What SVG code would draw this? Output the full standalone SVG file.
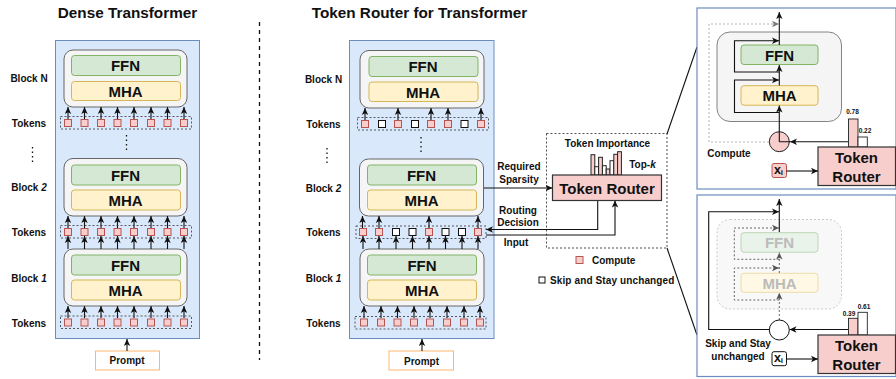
<svg xmlns="http://www.w3.org/2000/svg" xmlns:xlink="http://www.w3.org/1999/xlink" width="896" height="379" viewBox="0 0 896 379">
<style>
text{font-family:"Liberation Sans",Arial,sans-serif;font-weight:700;fill:#111;text-anchor:middle;dominant-baseline:central}
.t10{font-size:10px}.t6{font-size:6.5px}.t15{font-size:15px}.title{font-size:15.3px}.xi{font-size:12.5px}
.panel{fill:#dae8fc;stroke:#6c8ebf;stroke-width:1}
.block{fill:#f5f5f5;stroke:#666;stroke-width:1}
.ffn{fill:#d5e8d4;stroke:#82b366;stroke-width:1}
.mha{fill:#fff2cc;stroke:#d6b656;stroke-width:1}
.row{fill:none;stroke:#333;stroke-width:.8;stroke-dasharray:2 2}
.c{fill:#f8cecc;stroke:#b85450;stroke-width:1}
.s{fill:#fff;stroke:#111;stroke-width:1}
.prompt{fill:#fff;stroke:#ffb570;stroke-width:1}
.router{fill:#f8cecc;stroke:#333;stroke-width:1.2}
.frame{fill:#fff;stroke:#6c8ebf;stroke-width:1.2}
.dots{fill:none;stroke:#111;stroke-width:1.3;stroke-dasharray:1.5 3}
.l{fill:none;stroke:#111;stroke-width:1.1;marker-end:url(#a)}
.p{fill:none;stroke:#111;stroke-width:1.1}
.g{fill:none;stroke:#aaa;stroke-width:.9;stroke-dasharray:2 2;marker-end:url(#ag)}
.d{fill:none;stroke:#555;stroke-width:.9;stroke-dasharray:2 2;marker-end:url(#ad)}
.faint{fill:#bbb}
</style>
<defs>
<marker id="a" markerUnits="userSpaceOnUse" markerWidth="8" markerHeight="8" refX="7" refY="4" orient="auto"><path d="M0 .8L7 4L0 7.2L1.8 4Z" fill="#111"/></marker>
<marker id="ag" markerUnits="userSpaceOnUse" markerWidth="8" markerHeight="8" refX="7" refY="4" orient="auto"><path d="M0 .8L7 4L0 7.2L1.8 4Z" fill="#777"/></marker>
<marker id="ad" markerUnits="userSpaceOnUse" markerWidth="8" markerHeight="8" refX="7" refY="4" orient="auto"><path d="M0 .8L7 4L0 7.2L1.8 4Z" fill="#555"/></marker>
<path id="u12" class="l" d="M0 12V0"/>
<path id="u13" class="l" d="M0 13V0"/>
</defs>

<text class="title" x="127.500" y="12">Dense Transformer</text>
<text class="title" x="419.500" y="12">Token Router for Transformer</text>
<path d="M259.500 22V360" fill="none" stroke="#111" stroke-width="1.3" stroke-dasharray="4 4"/>

<g id="dense-panel">
<rect class="panel" x="55.500" y="40.500" width="144" height="298"/>
<path class="dots" d="M126.500 135V153"/>
</g>
<g id="dense-block-n"><rect class="block" x="64" y="50" width="123" height="57" rx="9"/><rect class="ffn" x="71.500" y="55.500" width="109" height="20" rx="3"/><rect class="mha" x="71.500" y="81.500" width="109" height="19" rx="3"/><text class="t15" x="125.500" y="65">FFN</text><text class="t15" x="125.500" y="91">MHA</text></g>
<g id="dense-block-2"><rect class="block" x="64" y="158.500" width="123" height="57.500" rx="9"/><rect class="ffn" x="71.500" y="165" width="109" height="20" rx="3"/><rect class="mha" x="71.500" y="190" width="109" height="20" rx="3"/><text class="t15" x="125.500" y="175">FFN</text><text class="t15" x="125.500" y="200">MHA</text></g>
<g id="dense-block-1"><rect class="block" x="64" y="249" width="123" height="57" rx="9"/><rect class="ffn" x="71.500" y="255" width="109" height="20" rx="3"/><rect class="mha" x="71.500" y="280" width="109" height="20" rx="3"/><text class="t15" x="125.500" y="265">FFN</text><text class="t15" x="125.500" y="290">MHA</text></g>
<g id="dense-prompt"><rect class="prompt" x="95.500" y="351" width="64" height="19"/><text class="t10" x="127" y="360.500">Prompt</text></g>

<g id="dense-labels">
<text class="t10" x="29" y="78.500">Block N</text><text class="t10" x="29" y="123.500">Tokens</text>
<path class="dots" d="M32.500 147V165"/>
<text class="t10" x="29" y="187">Block <tspan font-style="italic">2</tspan></text><text class="t10" x="29" y="232.500">Tokens</text>
<text class="t10" x="29" y="278">Block <tspan font-style="italic">1</tspan></text><text class="t10" x="29" y="323.500">Tokens</text>
</g>

<g id="dense-connectors">
<use href="#u12" x="68" y="107"/><use href="#u12" x="84.500" y="107"/><use href="#u12" x="101" y="107"/><use href="#u12" x="117.500" y="107"/><use href="#u12" x="134" y="107"/><use href="#u12" x="151" y="107"/><use href="#u12" x="167.500" y="107"/><use href="#u12" x="184" y="107"/>
<use href="#u12" x="68" y="216"/><use href="#u12" x="84.500" y="216"/><use href="#u12" x="101" y="216"/><use href="#u12" x="117.500" y="216"/><use href="#u12" x="134" y="216"/><use href="#u12" x="151" y="216"/><use href="#u12" x="167.500" y="216"/><use href="#u12" x="184" y="216"/>
<use href="#u13" x="68" y="236"/><use href="#u13" x="84.500" y="236"/><use href="#u13" x="101" y="236"/><use href="#u13" x="117.500" y="236"/><use href="#u13" x="134" y="236"/><use href="#u13" x="151" y="236"/><use href="#u13" x="167.500" y="236"/><use href="#u13" x="184" y="236"/>
<use href="#u12" x="68" y="306"/><use href="#u12" x="84.500" y="306"/><use href="#u12" x="101" y="306"/><use href="#u12" x="117.500" y="306"/><use href="#u12" x="134" y="306"/><use href="#u12" x="151" y="306"/><use href="#u12" x="167.500" y="306"/><use href="#u12" x="184" y="306"/>
<use href="#u12" x="127" y="339"/>
</g>

<g id="dense-tokens-n"><rect class="row" x="60.500" y="116.500" width="131" height="12.500"/>
<rect class="c" x="64.500" y="119.500" width="7" height="7"/><rect class="c" x="81" y="119.500" width="7" height="7"/><rect class="c" x="97.500" y="119.500" width="7" height="7"/><rect class="c" x="114" y="119.500" width="7" height="7"/><rect class="c" x="130.500" y="119.500" width="7" height="7"/><rect class="c" x="147.500" y="119.500" width="7" height="7"/><rect class="c" x="164" y="119.500" width="7" height="7"/><rect class="c" x="180.500" y="119.500" width="7" height="7"/></g>
<g id="dense-tokens-2"><rect class="row" x="60.500" y="225.500" width="131" height="12.500"/>
<rect class="c" x="64.500" y="228.500" width="7" height="7"/><rect class="c" x="81" y="228.500" width="7" height="7"/><rect class="c" x="97.500" y="228.500" width="7" height="7"/><rect class="c" x="114" y="228.500" width="7" height="7"/><rect class="c" x="130.500" y="228.500" width="7" height="7"/><rect class="c" x="147.500" y="228.500" width="7" height="7"/><rect class="c" x="164" y="228.500" width="7" height="7"/><rect class="c" x="180.500" y="228.500" width="7" height="7"/></g>
<g id="dense-tokens-1"><rect class="row" x="60.500" y="316" width="131" height="12.500"/>
<rect class="c" x="64.500" y="319" width="7" height="7"/><rect class="c" x="81" y="319" width="7" height="7"/><rect class="c" x="97.500" y="319" width="7" height="7"/><rect class="c" x="114" y="319" width="7" height="7"/><rect class="c" x="130.500" y="319" width="7" height="7"/><rect class="c" x="147.500" y="319" width="7" height="7"/><rect class="c" x="164" y="319" width="7" height="7"/><rect class="c" x="180.500" y="319" width="7" height="7"/></g>

<g id="router-panel">
<rect class="panel" x="349.500" y="40.500" width="144.500" height="298"/>
<path class="dots" d="M421 137V154"/>
</g>
<g id="router-block-n"><rect class="block" x="360" y="50.500" width="124" height="57.500" rx="9"/><rect class="ffn" x="369" y="56.500" width="109" height="20" rx="3"/><rect class="mha" x="369" y="82" width="109" height="19.500" rx="3"/><text class="t15" x="423" y="66.500">FFN</text><text class="t15" x="423" y="92">MHA</text></g>
<g id="router-block-2"><rect class="block" x="359.500" y="159" width="124" height="57" rx="9"/><rect class="ffn" x="367.500" y="165" width="109" height="20" rx="3"/><rect class="mha" x="367.500" y="190" width="109" height="20" rx="3"/><text class="t15" x="421.500" y="175">FFN</text><text class="t15" x="421.500" y="200">MHA</text></g>
<g id="router-block-1"><rect class="block" x="360" y="249" width="124" height="57" rx="9"/><rect class="ffn" x="367.500" y="255" width="109" height="20" rx="3"/><rect class="mha" x="367.500" y="280" width="109" height="20" rx="3"/><text class="t15" x="422" y="265">FFN</text><text class="t15" x="422" y="290">MHA</text></g>
<g id="router-prompt"><rect class="prompt" x="389" y="351" width="64.500" height="19"/><text class="t10" x="421.500" y="361">Prompt</text></g>

<g id="router-labels">
<text class="t10" x="323.500" y="79">Block N</text><text class="t10" x="323.500" y="124">Tokens</text>
<path class="dots" d="M327 148V166"/>
<text class="t10" x="323.500" y="188">Block <tspan font-style="italic">2</tspan></text><text class="t10" x="323.500" y="232.500">Tokens</text>
<text class="t10" x="323.500" y="278">Block <tspan font-style="italic">1</tspan></text><text class="t10" x="323.500" y="323.500">Tokens</text>
</g>

<g id="router-connectors">
<use href="#u12" x="365" y="108"/><use href="#u12" x="398" y="108"/><use href="#u12" x="431" y="108"/><use href="#u12" x="448" y="108"/><use href="#u12" x="481" y="108"/>
<use href="#u12" x="362.500" y="216"/><use href="#u12" x="379" y="216"/><use href="#u12" x="429" y="216"/><use href="#u12" x="478" y="216"/>
<use href="#u13" x="363" y="236"/><use href="#u13" x="379" y="236"/><use href="#u13" x="396" y="236"/><use href="#u13" x="412.500" y="236"/><use href="#u13" x="429" y="236"/><use href="#u13" x="445.500" y="236"/><use href="#u13" x="462" y="236"/><use href="#u13" x="478" y="236"/>
<use href="#u12" x="364" y="306"/><use href="#u12" x="381" y="306"/><use href="#u12" x="397.500" y="306"/><use href="#u12" x="414" y="306"/><use href="#u12" x="430" y="306"/><use href="#u12" x="447" y="306"/><use href="#u12" x="464" y="306"/><use href="#u12" x="480" y="306"/>
<use href="#u12" x="422" y="339"/>
<path class="l" d="M484 188H552.500"/>
<path class="l" d="M597.700 200V229.500H486"/>
<path class="l" d="M486 235H615V200.500"/>
<path class="p" d="M667 134L697 47"/>
<path class="p" d="M667 248L697 335"/>
</g>

<g id="router-tokens-n"><rect class="row" x="357.500" y="117.500" width="131" height="12.500"/>
<rect class="c" x="361.500" y="120.500" width="7" height="7"/><rect class="s" x="378.500" y="120.500" width="7" height="7"/><rect class="c" x="394.500" y="120.500" width="7" height="7"/><rect class="s" x="411.500" y="120.500" width="7" height="7"/><rect class="c" x="427.500" y="120.500" width="7" height="7"/><rect class="c" x="444.500" y="120.500" width="7" height="7"/><rect class="s" x="461" y="120.500" width="7" height="7"/><rect class="c" x="477.500" y="120.500" width="7" height="7"/></g>
<g id="router-tokens-2"><rect class="row" x="356" y="226" width="130" height="12.500"/>
<rect class="c" x="359.500" y="228.500" width="7" height="7"/><rect class="c" x="375.500" y="228.500" width="7" height="7"/><rect class="s" x="392.500" y="228.500" width="7" height="7"/><rect class="s" x="409" y="228.500" width="7" height="7"/><rect class="c" x="425.500" y="228.500" width="7" height="7"/><rect class="s" x="442" y="228.500" width="7" height="7"/><rect class="s" x="458.500" y="228.500" width="7" height="7"/><rect class="c" x="474.500" y="228.500" width="7" height="7"/></g>
<g id="router-tokens-1"><rect class="row" x="355" y="316.500" width="131" height="12.500"/>
<rect class="c" x="360.500" y="319" width="7" height="7"/><rect class="c" x="377.500" y="319" width="7" height="7"/><rect class="c" x="394" y="319" width="7" height="7"/><rect class="c" x="410.500" y="319" width="7" height="7"/><rect class="c" x="426.500" y="319" width="7" height="7"/><rect class="c" x="443.500" y="319" width="7" height="7"/><rect class="c" x="460.500" y="319" width="7" height="7"/><rect class="c" x="476.500" y="319" width="7" height="7"/></g>

<g id="connector-labels">
<text class="t10" x="519" y="166.500">Required</text><text class="t10" x="519" y="179.500">Sparsity</text>
<text class="t10" x="518" y="210">Routing</text><text class="t10" x="518" y="222.500">Decision</text>
<text class="t10" x="516" y="242">Input</text>
</g>

<g id="token-router">
<rect x="546.500" y="133.500" width="120.500" height="114.500" fill="none" stroke="#222" stroke-width=".8" stroke-dasharray="2 2"/>
<text class="t10" x="607.500" y="143.500">Token Importance</text>
<text class="t10" x="642.500" y="164">Top-<tspan font-style="italic">k</tspan></text>
<g stroke="#222" stroke-width="1">
<rect x="591" y="154.700" width="3.800" height="20.300" fill="#f8cecc"/><rect x="594.800" y="166.700" width="3.800" height="8.300" fill="#fff"/><rect x="598.600" y="157.300" width="3.800" height="17.700" fill="#f8cecc"/><rect x="602.400" y="165.700" width="3.800" height="9.300" fill="#fff"/><rect x="606.200" y="169" width="3.800" height="6" fill="#f8cecc"/><rect x="610" y="160.700" width="3.800" height="14.300" fill="#fff"/><rect x="613.800" y="154.300" width="3.800" height="20.700" fill="#f8cecc"/><rect x="617.600" y="151.700" width="3.800" height="23.300" fill="#f8cecc"/>
</g>
<rect class="router" x="552.500" y="175" width="109" height="25.500"/>
<text class="t15" x="607" y="188">Token Router</text>
</g>

<g id="legend">
<rect class="c" x="576" y="256.500" width="7" height="7"/><text class="t10" x="592" y="260" style="text-anchor:start">Compute</text>
<rect class="s" x="539" y="277" width="6" height="6"/><text class="t10" x="550" y="280" style="text-anchor:start" letter-spacing=".12">Skip and Stay unchanged</text>
</g>

<g id="compute-panel">
<rect class="frame" x="697" y="8" width="199" height="181"/>
<rect x="717" y="32" width="124.500" height="89.500" rx="13" fill="#f5f5f5" stroke="#666" stroke-width=".8"/>
<g id="compute-ffn"><rect class="ffn" x="741" y="45" width="77" height="19.500" rx="3"/><text class="t15" x="779.500" y="55">FFN</text></g>
<g id="compute-mha"><rect class="mha" x="741" y="85.700" width="77" height="19.500" rx="3"/><text class="t15" x="779.500" y="95.500">MHA</text></g>
<g id="compute-connectors">
<path class="g" d="M769 142H709V24H779"/>
<path class="l" d="M779.300 141V105.500"/>
<path class="l" d="M779.300 85.500V65"/>
<path class="l" d="M779.300 45V12"/>
<path class="l" d="M779.300 112.500H734.500V80H779"/>
<path class="l" d="M779.300 72H734.500V40.700H779"/>
</g>
<g id="compute-gate"><circle cx="779.300" cy="141.700" r="10" fill="#f8cecc" stroke="#222" stroke-width="1"/><path class="p" d="M779.300 141.700V131.700M779.300 141.700H790"/></g>
<path class="l" d="M848.500 141.700H790"/>
<g id="compute-bars">
<rect x="848.500" y="119" width="9.500" height="28" fill="#f8cecc" stroke="#222" stroke-width=".9"/><rect x="858" y="137" width="9.300" height="10" fill="#fff" stroke="#222" stroke-width=".9"/>
<text class="t6" x="852.500" y="111">0.78</text><text class="t6" x="865" y="130.500">0.22</text>
</g>
<g id="compute-router"><rect class="router" x="818" y="147" width="77.500" height="38.500"/><text class="t15" x="856.500" y="157">Token</text><text class="t15" x="856.500" y="176">Router</text></g>
<g id="compute-xi"><rect x="772" y="163.500" width="14.500" height="14" rx="2" class="c"/><text class="xi" x="778.500" y="169.500">x<tspan font-size="8" dy="2.500">i</tspan></text></g>
<path class="l" d="M786.500 171H818"/>
<text class="t10" x="729" y="153.500">Compute</text>
</g>

<g id="skip-panel">
<rect class="frame" x="697" y="195" width="199" height="181.500"/>
<rect x="717" y="219.500" width="124.500" height="89.500" rx="13" fill="#f8f8f8" stroke="#bbb" stroke-width=".8" stroke-dasharray="2 2"/>
<g id="skip-ffn"><rect x="741" y="232.700" width="77" height="19.500" rx="3" fill="#eaf3e9" stroke="#bcd6b4"/><text class="t15 faint" x="779.500" y="242.500">FFN</text></g>
<g id="skip-mha"><rect x="741" y="273.300" width="77" height="19" rx="3" fill="#fff8e5" stroke="#ecdcaa"/><text class="t15 faint" x="779.500" y="283">MHA</text></g>
<g id="skip-connectors">
<path class="l" d="M769 329.500H708.700V211.700H779"/>
<path class="l" d="M779.300 232V199"/>
<path class="d" d="M779.300 320V292.800"/>
<path class="d" d="M779.300 273V252.500"/>
<path class="d" d="M779.300 300H734.300V268H779"/>
<path class="d" d="M779.300 259.300H734.300V228H779"/>
</g>
<g id="skip-gate"><circle cx="779.300" cy="330" r="10" fill="#fff" stroke="#111" stroke-width="1"/></g>
<path class="l" d="M848.500 329.500H789.500"/>
<g id="skip-bars">
<rect x="848.500" y="318.300" width="9.500" height="16.700" fill="#f8cecc" stroke="#222" stroke-width=".9"/><rect x="858" y="312.300" width="9.300" height="22.700" fill="#fff" stroke="#222" stroke-width=".9"/>
<text class="t6" x="849" y="313.500">0.39</text><text class="t6" x="864" y="306">0.61</text>
</g>
<g id="skip-router"><rect class="router" x="818" y="335" width="77.500" height="38.500"/><text class="t15" x="856.500" y="345">Token</text><text class="t15" x="856.500" y="364">Router</text></g>
<g id="skip-xi"><rect x="772" y="351.700" width="14.500" height="14" rx="2" class="s"/><text class="xi" x="778.500" y="357.500">x<tspan font-size="8" dy="2.500">i</tspan></text></g>
<path class="l" d="M786.500 359H818"/>
<text class="t10" x="738" y="343">Skip and Stay</text><text class="t10" x="738" y="356">unchanged</text>
</g>
</svg>
